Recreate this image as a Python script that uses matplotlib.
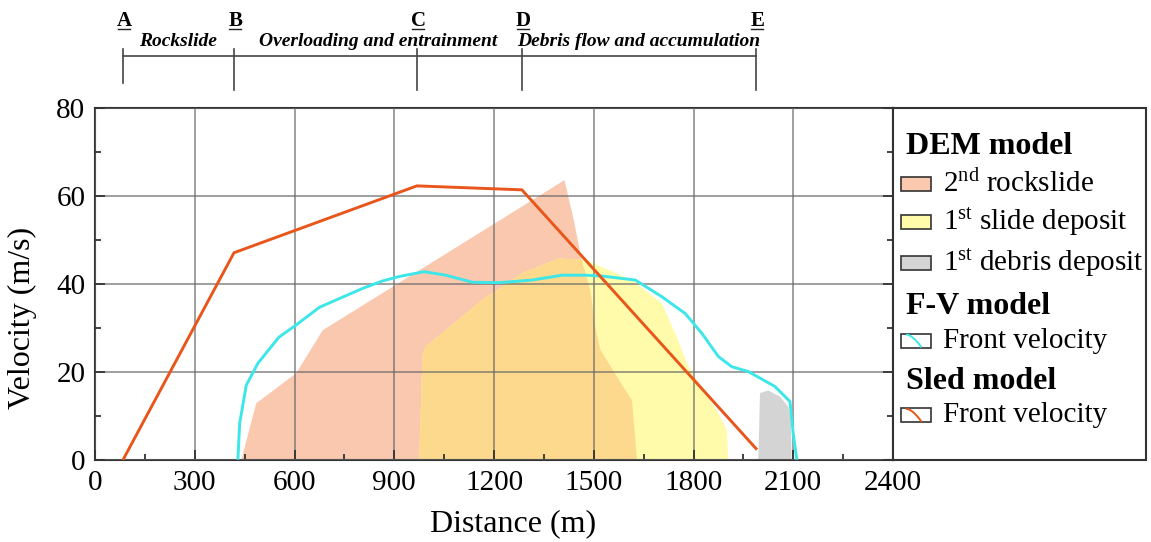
import matplotlib
matplotlib.use("Agg")
import matplotlib.pyplot as plt
from matplotlib.patches import Polygon, Rectangle
from matplotlib.ticker import MultipleLocator
import numpy as np

plt.rcParams["font.family"] = ["Liberation Serif", "DejaVu Serif"]
plt.rcParams["mathtext.fontset"] = "custom"
plt.rcParams["mathtext.rm"] = "Liberation Serif"
plt.rcParams["mathtext.it"] = "Liberation Serif:italic"

# ---- data -------------------------------------------------------------
# DEM model: 2nd rockslide velocity envelope (distance m, velocity m/s)
rockslide_x = [440, 485, 605, 685, 1412, 1440, 1462, 1490, 1505, 1520, 1595, 1615, 1630]
rockslide_v = [0, 12.9, 19.7, 29.5, 63.6, 54.5, 46.0, 38.5, 30.0, 25.0, 15.9, 13.6, 0]

# DEM model: 1st slide deposit
slide_x = [975, 985, 995, 1165, 1285, 1395, 1475, 1615, 1705, 1745, 1785, 1875, 1900, 1905]
slide_v = [0, 24.0, 25.8, 36.4, 42.5, 45.8, 45.5, 40.9, 35.6, 28.8, 21.2, 10.6, 6.8, 0]

# DEM model: 1st debris deposit
debris_x = [1995, 2000, 2025, 2060, 2085, 2093, 2095]
debris_v = [0, 15.2, 15.8, 14.4, 12.1, 9.1, 0]

# F-V model front velocity
fv_x = [430, 435, 455, 490, 553, 605, 675, 735, 805, 865, 915, 990, 1055, 1135,
        1215, 1315, 1405, 1475, 1525, 1625, 1705, 1775, 1825, 1875, 1915, 1965,
        2045, 2090, 2100, 2110]
fv_v = [0.4, 8.3, 17.0, 22.0, 27.9, 30.7, 34.7, 36.7, 39.0, 40.7, 41.7, 42.8, 42.0, 40.4,
        40.3, 40.9, 42.0, 42.0, 41.8, 40.9, 37.1, 33.3, 28.8, 23.5, 21.2, 20.1,
        16.7, 13.3, 6.0, 0.4]

# Sled model front velocity (vertices mark the stage boundaries A-E)
sled_x = [84, 418, 968, 1284, 1988]
sled_v = [0, 47.1, 62.3, 61.4, 2.6]

stage_letters = ["A", "B", "C", "D", "E"]
stage_names = ["Rockslide", "Overloading and entrainment", "Debris flow and accumulation"]

x_ticks = [0, 300, 600, 900, 1200, 1500, 1800, 2100, 2400]
y_ticks = [0, 20, 40, 60, 80]

# ---- colours ----------------------------------------------------------
c_rock = "#F9C8AE"
c_slide = "#FFFBAA"
c_overlap = "#FCD98D"
c_debris = "#D4D4D4"
c_fv = "#3DE6E8"
c_sled = "#E8561C"
c_frame = "#333333"

W, H = 1151, 542
fig = plt.figure(figsize=(W / 100, H / 100), dpi=100)
ax = fig.add_axes([95 / W, 82 / H, 798 / W, 352 / H])

# filled envelopes
rock = Polygon(np.column_stack([rockslide_x, rockslide_v]), closed=True,
               facecolor=c_rock, edgecolor="none", zorder=1)
slide = Polygon(np.column_stack([slide_x, slide_v]), closed=True,
                facecolor=c_slide, edgecolor="none", zorder=1.1)
ax.add_patch(rock)
ax.add_patch(slide)
overlap = Polygon(np.column_stack([slide_x, slide_v]), closed=True,
                  facecolor=c_overlap, edgecolor="none", zorder=1.2)
ax.add_patch(overlap)
overlap.set_clip_path(rock)
ax.add_patch(Polygon(np.column_stack([debris_x, debris_v]), closed=True,
                     facecolor=c_debris, edgecolor="none", zorder=1.1))

# velocity curves
ax.plot(fv_x, fv_v, color=c_fv, lw=2.1, zorder=3, solid_joinstyle="round")
ax.plot(sled_x, sled_v, color=c_sled, lw=2.1, zorder=3.1, solid_joinstyle="miter")

ax.set_xlim(0, 2400)
ax.set_ylim(0, 80)
ax.set_xticks(x_ticks)
ax.set_yticks(y_ticks)
ax.xaxis.set_minor_locator(MultipleLocator(150))
ax.yaxis.set_minor_locator(MultipleLocator(10))
ax.set_axisbelow(False)
ax.grid(True, which="major", color="#666666", lw=1.1, alpha=0.8)
ax.tick_params(which="both", direction="in", right=True, top=False,
               labelsize=21, color=c_frame, width=1.3)
ax.tick_params(which="major", length=7, pad=7)
ax.tick_params(which="minor", length=4)
for s in ax.spines.values():
    s.set_color(c_frame)
    s.set_linewidth(1.5)

ax.text((513 - 95) / 798, (460 - 524) / 352, "Distance (m)", transform=ax.transAxes,
        ha="center", va="center", fontsize=23)
ax.text((22 - 95) / 798, (460 - 318) / 352, "Velocity (m/s)", transform=ax.transAxes,
        ha="center", va="center", fontsize=23, rotation=90)

# stage bar above the plot
tr = ax.get_xaxis_transform()
y_of = lambda py: (460 - py) / 352
ax.plot([sled_x[0], sled_x[-1]], [y_of(55.5)] * 2, transform=tr, color="#444444",
        lw=1.2, clip_on=False)
for i, (xv, letter) in enumerate(zip(sled_x, stage_letters)):
    bottom = 83 if i == 0 else 90
    ax.plot([xv, xv], [y_of(49), y_of(bottom)], transform=tr, color="#444444",
            lw=1.2, clip_on=False)
    ax.text(xv + 4, y_of(25.5), letter, transform=tr, ha="center", va="baseline",
            fontsize=15, fontweight="bold")
    ax.plot([xv + 4 - 18, xv + 4 + 18], [y_of(28.5)] * 2, transform=tr,
            color="#222222", lw=1.0, clip_on=False)
name_pos = [(sled_x[0] + sled_x[1]) / 2, (sled_x[1] + sled_x[3]) / 2,
            (sled_x[3] + sled_x[4]) / 2]
for xv, name in zip(name_pos, stage_names):
    ax.text(xv, y_of(41.5), name, transform=tr, ha="center", va="center",
            fontsize=14, fontweight="bold", style="italic")

# legend panel
lg = fig.add_axes([893 / W, 82 / H, 253 / W, 352 / H])
lg.set_xlim(0, 253)
lg.set_ylim(352, 0)
lg.set_xticks([])
lg.set_yticks([])
for s in lg.spines.values():
    s.set_color(c_frame)
    s.set_linewidth(1.5)

fs = 21
def header(y, txt):
    lg.text(13, y, txt, fontsize=23, fontweight="bold", ha="left", va="center")

def entry(y, txt, face):
    lg.add_patch(Rectangle((8, y - 7), 30, 14, facecolor=face,
                           edgecolor="#333333", lw=1.2))
    lg.text(50, y, txt, fontsize=fs, ha="left", va="center")

def line_entry(y, txt, col):
    lg.add_patch(Rectangle((8, y - 7), 30, 14, facecolor="white",
                           edgecolor="#333333", lw=1.2))
    t = np.linspace(0, 1, 20)
    lg.plot(14 + 14 * t, y - 6 + 12 * t ** 1.6, color=col, lw=1.4)
    lg.text(50, y, txt, fontsize=fs, ha="left", va="center")

header(38.7, "DEM model")
entry(76, r"2$^{\mathrm{nd}}$ rockslide", c_rock)
entry(113.7, r"1$^{\mathrm{st}}$ slide deposit", c_slide)
entry(154.7, r"1$^{\mathrm{st}}$ debris deposit", c_debris)
header(198.7, "F-V model")
line_entry(232.7, "Front velocity", c_fv)
header(273.7, "Sled model")
line_entry(307, "Front velocity", c_sled)

fig.savefig("out.png", dpi=100)
